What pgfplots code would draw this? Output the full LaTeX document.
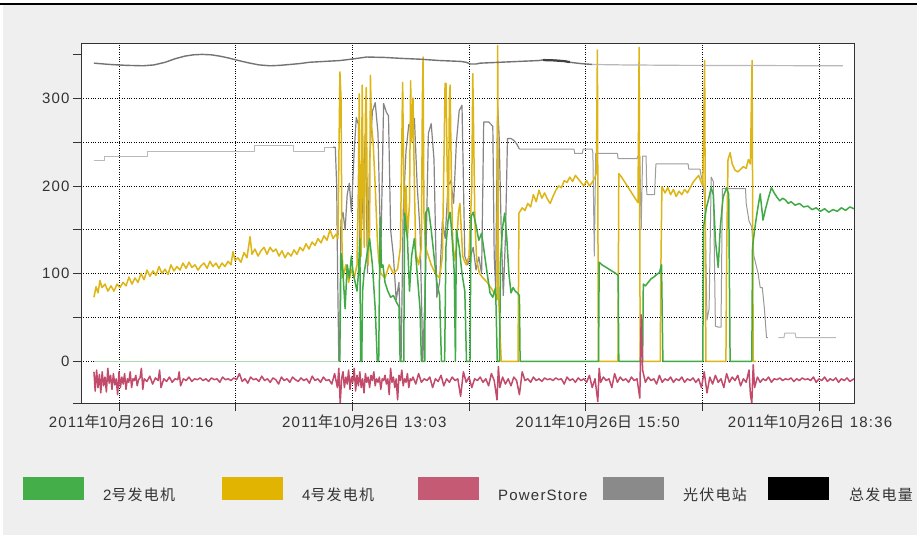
\documentclass[border=0pt]{standalone}
\usepackage{fontspec}
\setmainfont{Liberation Sans}[LetterSpace=8]
\newfontfamily\cjk{Noto Sans CJK SC}[LetterSpace=8]
\usepackage{pgfplots}
\pgfplotsset{compat=1.18}
\definecolor{bg}{HTML}{EFEFEF}
\definecolor{cgreen}{HTML}{44AF48}
\definecolor{lgreen}{HTML}{3FAA46}
\definecolor{cyellow}{HTML}{E0B400}
\definecolor{lyellow}{HTML}{DDB514}
\definecolor{cpink}{HTML}{C45A74}
\definecolor{lpink}{HTML}{C24A6B}
\definecolor{cgray}{HTML}{8A8A8A}
\definecolor{txt}{HTML}{333333}
\newcommand\lf{\fontsize{15}{17.5}\selectfont}
\begin{document}
\begin{tikzpicture}
\useasboundingbox (0,0) rectangle (917pt,535pt);
\fill[bg] (3pt,0) rectangle (917pt,531pt);
\draw[line width=1.6pt] (0,531pt) -- (917pt,531pt);
\begin{axis}[
  at={(81pt,132pt)}, anchor=south west,
  scale only axis, width=773pt, height=360pt,
  xmin=-27.14, xmax=525, ymin=-47.6, ymax=363,
  axis background/.style={fill=white},
  axis line style={draw=black!80, line width=0.8pt},
  tick align=outside, major tick length=8pt, tick pos=left,
  tick style={black!80, line width=0.8pt},
  grid=major,
  major grid style={black, dash pattern=on 0.8pt off 1.6pt, line width=0.6pt},
  xtick={0,83.333,166.667,250,333.333,416.667,500},
  xticklabels={{\hspace*{24pt}2011{\cjk 年}10{\cjk 月}26{\cjk 日} 10:16},{},{\hspace*{24pt}2011{\cjk 年}10{\cjk 月}26{\cjk 日} 13:03},{},{\hspace*{24pt}2011{\cjk 年}10{\cjk 月}26{\cjk 日} 15:50},{},{2011{\cjk 年}10{\cjk 月}26{\cjk 日} 18:36\hspace*{18pt}}},
  ytick={0,50,100,150,200,250,300},
  yticklabels={0,,100,,200,,300},
  extra y ticks={350,-47.6},
  extra y tick labels={},
  extra y tick style={grid=none},
  tick label style={font=\lf, text=txt},
  every axis plot/.append style={line join=round},
]
% 光伏电站 (solar)
\addplot[color=black!27, line width=1.0pt] coordinates {(-17.9,228.5) (-10.7,228.5) (-10.7,234) (20.7,234) (20.7,239.5) (97.1,239.5) (97.1,246) (124.3,246) (124.3,239) (147.1,239) (147.1,244) (153,244)};
\addplot[color=black!48, line width=1.2pt] coordinates {(153,244) (154.5,244) (155.5,200) (156,120) (157,0) (157.6,0) (158.5,160) (160,170) (161.5,150) (163,190) (164.5,203) (166,170) (168,240) (169.5,278) (171,270) (172,110) (174,180) (176,260) (177.5,100) (179,230) (181,285) (183,295) (185,260) (187,120) (189,294) (191,284) (192.5,280) (194,150) (196,120) (198,70) (200,90) (201.5,0) (203,170) (205,240) (207,270) (209,265) (211,277) (213,200) (215,150) (217,0) (219,100) (221,260) (223,271) (225,230) (227,73) (229,90) (231,160) (233,140) (235,200) (237,206) (239,180) (241,250) (243,286) (245,292) (247,120) (249,110) (251,119) (253,130) (255,104) (257,119) (259,100) (260.5,273) (264,273) (267,268) (268,120) (269,85) (270.5,290) (271.5,258) (273,150) (274.5,75) (276,140) (277.5,254) (280,254) (282,252) (284,248) (286,242)};
\addplot[color=black!38, line width=1.0pt] coordinates {(286,242) (325,242) (325.5,237) (331,237) (331.5,242) (338,242) (338.5,237) (339.5,120) (340.5,237) (356,237) (356.5,231) (370,231) (370.5,234) (372,234) (373,150) (374,234) (376.5,234) (377,190) (382.5,190) (383.5,225) (406.5,225) (407,219) (415,219)};
\addplot[color=black!40, line width=1.0pt] coordinates {(415,219) (416,210) (417,205) (418.5,180) (420,47) (421.5,60) (423,210) (424.5,205) (426,40) (428,39) (430,39) (431,197) (447.5,197) (448,180) (450,160) (452,153) (453.5,120) (456.5,100) (458,84) (459.5,84) (461,60) (462.5,27) (463.5,27)};
\addplot[color=black!27, line width=1.0pt] coordinates {(471,27) (475,27) (475.5,32) (483,32) (483.5,27) (512,27)};
% 4号发电机
\addplot[color=lyellow, line width=1.5pt] coordinates {(-17.9,73) (-16.4,85) (-15,78) (-13.6,92) (-12.1,84) (-10,88) (-7.9,80) (-5.7,86) (-3.6,80) (-1.4,88) (0.7,84) (2.9,90) (5,86) (7.1,96) (9.3,88) (11.4,95) (13.6,90) (15.7,100) (17.9,93) (20,104) (22.1,97) (24.3,103) (26.4,98) (28.6,108) (30.7,100) (32.9,105) (35,99) (37.1,110) (39.3,103) (41.4,108) (43.6,104) (45.7,112) (47.9,106) (50,113) (52.1,107) (54.3,110) (56.4,104) (58.6,109) (60.7,112) (62.9,106) (65,114) (67.1,108) (69.3,112) (71.4,106) (73.6,112) (75.7,108) (77.9,114) (80,110) (81.4,125) (82.9,115) (85,118) (87.1,113) (89.3,124) (91.4,118) (93.6,142) (95,122) (97.1,128) (99.3,120) (101.4,126) (103.6,130) (105.7,122) (107.9,130) (110,125) (112.1,128) (114.3,120) (116.4,126) (118.6,118) (120.7,124) (122.9,120) (125,127) (127.1,122) (129.3,130) (131.4,126) (133.6,134) (135.7,128) (137.9,136) (140,132) (142.1,140) (144.3,135) (146.4,143) (148.6,138) (150.7,150) (152.9,140) (155,145) (156.4,140) (157.2,250) (157.8,330) (158.6,300) (159.2,140) (160,95) (162,110) (164,90) (166,105) (168,95) (170,110) (171,200) (171.6,305) (172.3,150) (173,120) (173.7,315) (174.5,200) (175.2,130) (176,280) (176.6,312) (177.3,180) (178,110) (179,150) (179.6,326) (180.3,270) (181.5,250) (183,200) (184.5,140) (185.5,115) (187,100) (190,95) (193,110) (196,100) (199,105) (201,130) (202,250) (202.6,318) (203.3,220) (204,150) (205,200) (206,140) (207.5,180) (208.3,320) (209,250) (210,300) (211,200) (212,123) (214,110) (216,130) (216.7,300) (217.2,347) (217.8,170) (219,130) (221,120) (223,110) (226,100) (229,95) (231,120) (232.3,250) (232.9,317) (233.6,317) (234.4,220) (235.3,160) (236,300) (236.5,315) (237.3,220) (238.3,140) (239.5,115) (241,130) (242.5,170) (243.5,180) (244.5,150) (245.5,120) (246.5,115) (248,110) (250,120) (252,200) (252.7,328) (253.4,250) (254.2,160) (255.5,115) (257.5,100) (260,95) (263,90) (266,83) (269,75) (270,70) (270.5,360) (271,80) (272,40) (273,0) (285,0) (285.7,169) (288,175) (290,172) (292,180) (294,176) (296,190) (298,182) (300,195) (302,186) (304,192) (306,185) (308,180) (310,188) (312,195) (314,200) (316,198) (318,206) (320,204) (322,210) (324,205) (326,212) (328,208) (330,204) (332,200) (334,206) (336,200) (338,204) (340,210) (341,215) (341.7,355) (342.4,0) (356.4,0) (357,214) (359,210) (361,205) (363,200) (365,195) (367,190) (369,185) (370.7,181) (371.5,358) (372.3,0) (386.6,0) (387,100) (387.8,199) (390,192) (392,198) (394,190) (396,196) (398,188) (400,194) (402,190) (404,196) (406,192) (408,198) (410,204) (412,208) (414,212) (415.5,206) (417,200) (418.3,343) (419.2,0) (433.5,0) (434,120) (435,230) (436.5,238) (438,225) (440,218) (442,216) (444,219) (446,222) (448,220) (449.5,230) (451,225) (452.2,343) (453,0) (455,0)};
% 2号发电机
\addplot[color=cgreen!45, line width=1.2pt] coordinates {(-17.9,0) (157,0)};
\addplot[color=lgreen, line width=1.5pt] coordinates {(157,0) (157.6,0) (158,40) (158.6,123) (159,120) (160,100) (161.5,60) (163,110) (164.5,95) (166,120) (167,104) (168,95) (170,80) (171,100) (172,140) (172.6,0) (173.4,0) (174,80) (175,100) (177,120) (179,140) (181,110) (183,60) (184.5,0) (185.5,0) (186.5,164) (187.5,107) (188.5,110) (190,90) (192,80) (194,73) (196,75) (198,68) (200,62) (200.8,0) (203.4,0) (204,169) (206,140) (207.5,80) (209,120) (211,140) (213,100) (215,60) (216,0) (218.4,0) (219,169) (221,175) (223,150) (225,120) (227,90) (229,75) (230.3,0) (232.6,0) (233.5,130) (235,160) (236.5,170) (238,140) (239.5,100) (240.3,0) (241,150) (243,130) (245,100) (247,80) (248.2,0) (250.7,0) (251.5,165) (253,170) (255,155) (257,138) (259,146) (261,123) (263,100) (265,78) (267,73) (269,84) (270.2,0) (271.8,0) (272.5,115) (274,153) (275.5,169) (277,140) (278.5,100) (280,78) (281.5,84) (283,80) (284.5,78) (286,75) (286.5,0) (342.5,0) (343,113) (345,110) (347,108) (349,106) (351,104) (353,102) (355,100) (356.5,98) (357,0) (374,0) (374.5,88) (376,86) (378,90) (380,94) (382,96) (384,99) (386,101) (387.5,110) (388.5,0) (417,0) (417.5,153) (419.5,175) (421,184) (423,198) (424.5,190) (426,138) (428,107) (429.5,153) (431.5,187) (434,198) (435.5,190) (436.5,0) (452,0) (452.5,130) (454,150) (456,172) (458,191) (460,161) (462,175) (464,187) (466,198) (468,192) (470,187) (472,183) (474,186) (476,184) (478,180) (480,182) (483,178) (486,180) (489,176) (492,177) (495,173) (498,175) (501,171) (504,174) (507,170) (510,173) (513,171) (516,175) (519,172) (522,176) (525,174)};
% 总发电量
\addplot[color=black!55, line width=1.4pt] coordinates {(-17.9,340) (-6.4,338.5) (5,337.5) (17.1,337) (25,338) (33,341) (40,345) (47,348) (53,349.5) (59.3,350) (66,349.5) (72,348) (78,346) (83,344) (88,342) (93.6,340) (100,338) (108,337) (115,337.5) (122,338.5) (129,339.5) (136,341) (147,342) (158,343) (168,345) (177,347) (190,346.5) (201,345.5) (215,344.5) (229,343) (244,342) (248,341) (251,339) (255,339) (258,340) (265,340.5) (272,341) (286,342) (300,343) (304,344) (310,343.5) (318,342.5) (322,341) (330,339.5) (338,338.5)};
\addplot[color=black!75, line width=2.2pt] coordinates {(303,343.5) (310,343.2) (318,342.3) (322,341.2)};
\addplot[color=black!28, line width=1.2pt] coordinates {(338,338.5) (360,338) (400,337.5) (450,337.3) (517,337)};
% PowerStore
\addplot[color=lpink, line width=1.5pt] coordinates {(-17.9,-12) (-17,-34) (-16,-10) (-15,-30) (-14,-15) (-13,-36) (-12,-12) (-11,-28) (-10,-18) (-9,-35) (-8,-8) (-7,-25) (-6,-16) (-5,-32) (-4,-14) (-3,-27) (-2,-20) (-1,-38) (0,-12) (1,-30) (2,-18) (3,-26) (4,-14) (5,-32) (6,-20) (7,-24) (8,-12) (9,-30) (10,-20) (11,-22) (12,-16) (13,-28) (14,-21) (15,-19) (16,-8) (17,-32) (18,-20) (20,-23) (22,-17) (24,-26) (26,-19) (28,-22) (29,-10) (30,-30) (32,-20) (34,-23) (36,-18) (38,-24) (40,-20) (42,-21) (43,-12) (44,-28) (46,-20) (48,-22) (50,-18) (52,-23) (54,-20) (56,-21) (58,-19) (60,-22) (62,-20) (64,-23) (66,-19) (68,-21) (70,-20) (72,-24) (74,-18) (76,-21) (78,-20) (80,-22) (82,-19) (84,-21) (86,-14) (88,-23) (90,-20) (92,-25) (94,-18) (96,-21) (98,-20) (100,-23) (102,-17) (104,-22) (106,-20) (108,-24) (110,-19) (112,-21) (114,-26) (116,-18) (118,-22) (120,-20) (122,-24) (124,-18) (126,-21) (128,-23) (130,-19) (132,-22) (134,-20) (136,-25) (138,-17) (140,-22) (142,-20) (144,-24) (146,-18) (148,-22) (150,-21) (152,-26) (154,-14) (156,-30) (157,-8) (158,-48) (159,-20) (160,-12) (161,-30) (162,-18) (163,-26) (164,-10) (165,-32) (166,-18) (167,-24) (168,-8) (169,-34) (170,-16) (171,-28) (172,-12) (173,-30) (174,-20) (175,-36) (176,-14) (177,-24) (178,-18) (179,-30) (180,-16) (181,-22) (182,-12) (183,-28) (184,-20) (185,-24) (186,-18) (187,-32) (188,-20) (189,-22) (190,-16) (191,-26) (192,-20) (193,-38) (194,-8) (195,-24) (196,-18) (197,-30) (198,-20) (199,-44) (200,-16) (201,-22) (202,-10) (203,-28) (204,-20) (205,-24) (206,-14) (207,-30) (208,-20) (209,-22) (210,-18) (212,-26) (214,-14) (216,-24) (218,-20) (220,-22) (222,-18) (224,-30) (226,-20) (228,-23) (230,-16) (232,-28) (234,-20) (236,-24) (238,-18) (240,-22) (242,-20) (244,-40) (246,-12) (248,-24) (250,-18) (252,-30) (254,-20) (256,-22) (258,-18) (260,-24) (262,-20) (264,-28) (266,-14) (268,-22) (270,-44) (271,-6) (272,-30) (274,-18) (276,-26) (278,-20) (280,-28) (282,-18) (284,-22) (286,-38) (288,-12) (290,-22) (292,-20) (294,-24) (296,-18) (298,-22) (300,-20) (302,-23) (304,-19) (306,-21) (308,-20) (310,-22) (312,-19) (314,-21) (316,-20) (318,-26) (320,-18) (322,-22) (324,-20) (326,-24) (328,-19) (330,-22) (332,-20) (334,-24) (336,-16) (338,-30) (340,-20) (342,-46) (343,-8) (344,-24) (346,-18) (348,-22) (350,-20) (352,-30) (354,-14) (356,-24) (358,-18) (360,-22) (362,-20) (364,-24) (366,-18) (368,-22) (370,-20) (372,-42) (373,53) (374,-10) (376,-24) (378,-18) (380,-22) (382,-20) (384,-26) (386,-16) (388,-24) (390,-20) (392,-22) (394,-18) (396,-24) (398,-20) (400,-22) (402,-18) (404,-24) (406,-20) (408,-22) (410,-19) (412,-24) (414,-20) (416,-30) (418,-12) (420,-36) (422,-18) (424,-26) (426,-16) (428,-24) (430,-20) (432,-30) (434,-14) (436,-24) (438,-18) (440,-22) (442,-16) (444,-28) (446,-20) (448,-24) (450,-10) (451,-38) (452,-48) (453,-4) (454,-30) (456,-18) (458,-24) (460,-20) (462,-22) (464,-18) (466,-24) (468,-20) (470,-21) (472,-19) (474,-22) (476,-20) (478,-21) (480,-19) (482,-23) (484,-20) (486,-22) (488,-19) (490,-21) (492,-20) (494,-22) (496,-18) (498,-24) (500,-20) (502,-22) (504,-18) (506,-23) (508,-20) (510,-22) (512,-19) (514,-24) (516,-20) (518,-22) (520,-19) (522,-23) (525,-20)};
\end{axis}
% legend
\fill[cgreen] (23pt,35pt) rectangle (84pt,58pt);
\node[anchor=base west, inner sep=0pt, text=txt, font=\lf] at (103pt,35pt) {2{\cjk 号发电机}};
\fill[cyellow] (222pt,35pt) rectangle (283pt,58pt);
\node[anchor=base west, inner sep=0pt, text=txt, font=\lf] at (302pt,35pt) {4{\cjk 号发电机}};
\fill[cpink] (418pt,35pt) rectangle (479pt,58pt);
\node[anchor=base west, inner sep=0pt, text=txt, font=\lf] at (498pt,35pt) {PowerStore};
\fill[cgray] (603pt,35pt) rectangle (664pt,58pt);
\node[anchor=base west, inner sep=0pt, text=txt, font=\lf] at (683pt,35pt) {{\cjk 光伏电站}};
\fill[black] (768pt,35pt) rectangle (829pt,58pt);
\node[anchor=base west, inner sep=0pt, text=txt, font=\lf] at (849pt,35pt) {{\cjk 总发电量}};
\end{tikzpicture}
\end{document}
